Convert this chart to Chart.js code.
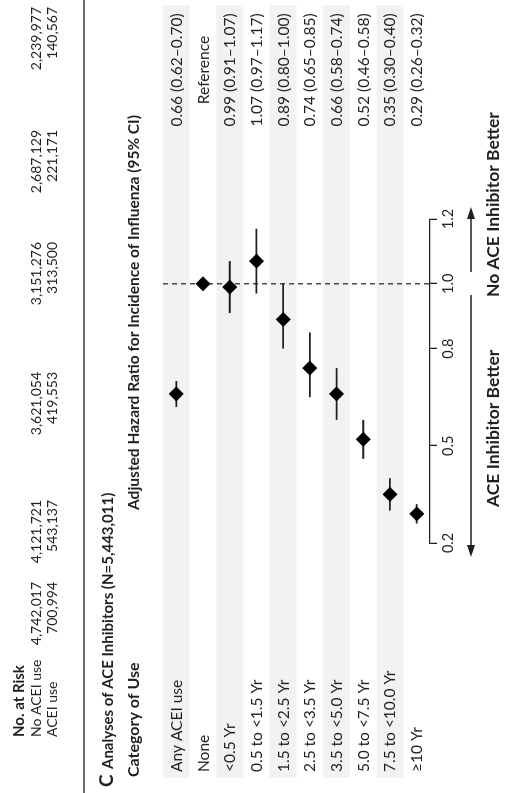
<!DOCTYPE html>
<html>
<head>
<meta charset="utf-8">
<script src="https://cdn.jsdelivr.net/npm/chart.js@4.4.1/dist/chart.umd.min.js"></script>
<style>
  html, body { margin: 0; padding: 0; background: #fff; overflow: hidden; }
  #wrap { position: absolute; left: 0; top: 0; width: 793px; height: 514px;
          transform-origin: 0 0; transform: translateY(793px) rotate(-90deg); background: #fff; }
  canvas { display: block; }
</style>
</head>
<body>
<div id="wrap"><canvas id="c" width="793" height="514"></canvas></div>
<script>
// ---------- data ----------
const categories = ['Any ACEI use', 'None', '<0.5 Yr', '0.5 to <1.5 Yr', '1.5 to <2.5 Yr',
  '2.5 to <3.5 Yr', '3.5 to <5.0 Yr', '5.0 to <7.5 Yr', '7.5 to <10.0 Yr', '\u226510 Yr'];
const hazardRatio = [0.66, 1.00, 0.99, 1.07, 0.89, 0.74, 0.66, 0.52, 0.35, 0.29];
const ciLow  = [0.62, null, 0.91, 0.97, 0.80, 0.65, 0.58, 0.46, 0.30, 0.26];
const ciHigh = [0.70, null, 1.07, 1.17, 1.00, 0.85, 0.74, 0.58, 0.40, 0.32];
const valueLabels = ['0.66 (0.62\u20130.70)', 'Reference', '0.99 (0.91\u20131.07)', '1.07 (0.97\u20131.17)',
  '0.89 (0.80\u20131.00)', '0.74 (0.65\u20130.85)', '0.66 (0.58\u20130.74)', '0.52 (0.46\u20130.58)',
  '0.35 (0.30\u20130.40)', '0.29 (0.26\u20130.32)'];
const axisTicks = [0.2, 0.5, 0.8, 1.0, 1.2];
const referenceValue = 1.0;
const riskGroups = ['No ACEI use', 'ACEI use'];
const riskNoAcei = ['4,742,017', '4,121,721', '3,621,054', '3,151,276', '2,687,129', '2,239,977'];
const riskAcei   = ['700,994', '543,137', '419,553', '313,500', '221,171', '140,567'];
const riskTitle = 'No. at Risk';
const panelLetter = 'C';
const panelTitle = 'Analyses of ACE Inhibitors (N=5,443,011)';
const colHeader1 = 'Category of Use';
const colHeader2 = 'Adjusted Hazard Ratio for Incidence of Influenza (95% CI)';
const leftArrowLabel = 'ACE Inhibitor Better';
const rightArrowLabel = 'No ACE Inhibitor Better';

// ---------- style ----------
const FONT = 'Lato, "Open Sans", sans-serif';
const INK = '#231f20';
const BAND = '#f1f2f4';

const riskRightEdges = [211, 293, 421, 551, 663, 786];

const decor = {
  id: 'decor',
  beforeDraw(chart) {
    const ctx = chart.ctx;
    const y = chart.scales.y;
    ctx.save();
    ctx.fillStyle = '#fff';
    ctx.fillRect(0, 0, chart.width, chart.height);
    const rowH = Math.abs(y.getPixelForValue(1) - y.getPixelForValue(0));
    categories.forEach((c, i) => {
      if (i % 2 === 0) {
        const cy = y.getPixelForValue(i);
        ctx.fillStyle = BAND;
        ctx.fillRect(15, cy - rowH / 2, 773, rowH);
      }
    });
    ctx.fillStyle = INK;
    ctx.textBaseline = 'alphabetic';
    ctx.font = '15.5px ' + FONT;
    categories.forEach((c, i) => {
      const cy = y.getPixelForValue(i);
      ctx.textAlign = 'left';
      ctx.fillText(c, 21, cy + 5.5);
      ctx.textAlign = 'center';
      ctx.fillText(valueLabels[i], 723, cy + 5.5);
    });
    // risk table
    ctx.textAlign = 'left';
    ctx.font = 'bold 15px ' + FONT;
    ctx.fillText(riskTitle, 56, 24);
    ctx.font = '14px ' + FONT;
    ctx.fillText(riskGroups[0], 56, 41);
    ctx.fillText(riskGroups[1], 56, 57);
    ctx.textAlign = 'right';
    riskNoAcei.forEach((t, i) => ctx.fillText(t, riskRightEdges[i], 41));
    riskAcei.forEach((t, i) => ctx.fillText(t, riskRightEdges[i], 57));
    // separator
    ctx.strokeStyle = '#6d6e71';
    ctx.lineWidth = 2;
    ctx.beginPath(); ctx.moveTo(0, 84); ctx.lineTo(793, 84); ctx.stroke();
    // panel title
    ctx.textAlign = 'left';
    ctx.font = 'bold 19px ' + FONT;
    ctx.fillText(panelLetter, 6, 113);
    ctx.font = 'bold 15px ' + FONT;
    ctx.fillText(panelTitle, 24, 113);
    ctx.font = 'bold 16px ' + FONT;
    ctx.fillText(colHeader1, 16, 139);
    ctx.font = 'bold 15.5px ' + FONT;
    ctx.fillText(colHeader2, 283, 139);
    // arrows
    ctx.strokeStyle = INK;
    ctx.lineWidth = 1.3;
    const av = 471;
    ctx.beginPath(); ctx.moveTo(498, av); ctx.lineTo(244, av); ctx.stroke();
    ctx.beginPath(); ctx.moveTo(521, av); ctx.lineTo(578, av); ctx.stroke();
    ctx.beginPath(); ctx.moveTo(236, av); ctx.lineTo(248, av - 4); ctx.lineTo(248, av + 4); ctx.closePath(); ctx.fill();
    ctx.beginPath(); ctx.moveTo(586, av); ctx.lineTo(574, av - 4); ctx.lineTo(574, av + 4); ctx.closePath(); ctx.fill();
    ctx.font = 'bold 17.5px ' + FONT;
    ctx.textAlign = 'left';
    ctx.fillText(leftArrowLabel, 286, 499);
    ctx.fillText(rightArrowLabel, 496, 499);
    ctx.restore();
  },
  beforeDatasetsDraw(chart) {
    const ctx = chart.ctx;
    const x = chart.scales.x;
    const a = chart.chartArea;
    const px = x.getPixelForValue(referenceValue);
    ctx.save();
    ctx.strokeStyle = INK;
    ctx.lineWidth = 1.2;
    ctx.setLineDash([5, 4]);
    ctx.beginPath(); ctx.moveTo(px, a.top); ctx.lineTo(px, a.bottom); ctx.stroke();
    ctx.restore();
  }
};

const ciDatasets = categories.map((c, i) => ciLow[i] === null ? null : ({
  type: 'scatter',
  data: [{x: ciLow[i], y: c}, {x: ciHigh[i], y: c}],
  showLine: true,
  borderColor: INK,
  borderWidth: 1.8,
  pointRadius: 0,
  order: 2
})).filter(Boolean);

new Chart(document.getElementById('c'), {
  type: 'scatter',
  data: {
    datasets: [
      ...ciDatasets,
      {
        data: categories.map((c, i) => ({x: hazardRatio[i], y: c})),
        pointStyle: 'rectRot',
        pointRadius: 7.5,
        backgroundColor: '#000',
        borderColor: '#000',
        borderWidth: 0,
        order: 1
      }
    ]
  },
  options: {
    responsive: false,
    animation: false,
    events: [],
    layout: { padding: { left: 250, right: 219, top: 163, bottom: 0 } },
    plugins: { legend: { display: false }, tooltip: { enabled: false } },
    scales: {
      x: {
        type: 'linear', min: 0.2, max: 1.2,
        afterBuildTicks: s => { s.ticks = axisTicks.map(v => ({ value: v })); },
        afterFit: s => { s.height = 84; },
        border: { display: true, color: INK, width: 1.3 },
        grid: { drawOnChartArea: false, drawTicks: true, tickLength: 7, color: INK, lineWidth: 1.3 },
        ticks: { color: INK, font: { family: FONT, size: 14.5 }, padding: 3, maxRotation: 0, autoSkip: false,
                 callback: v => Number(v).toFixed(1) }
      },
      y: { type: 'category', labels: categories, offset: true, display: false, grid: { display: false } }
    }
  },
  plugins: [decor]
});
</script>
</body>
</html>
